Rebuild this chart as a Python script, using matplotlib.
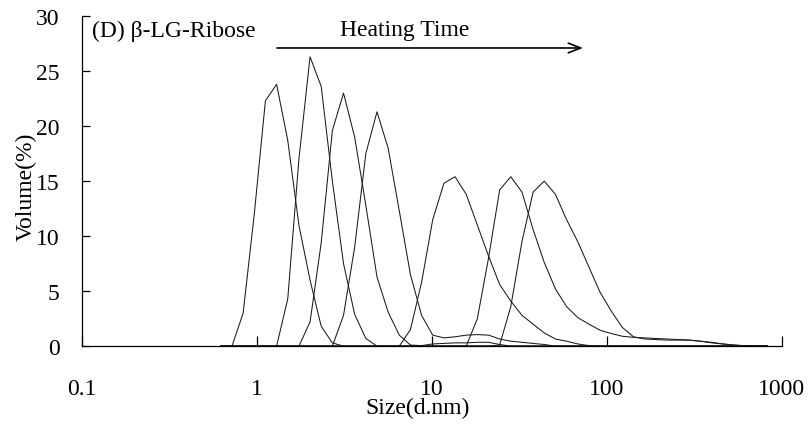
import matplotlib
matplotlib.use("Agg")
import matplotlib.pyplot as plt
import matplotlib.ticker as mticker

plt.rcParams['font.family'] = ['Liberation Serif', 'DejaVu Serif']

# size classes (d.nm) of the DLS volume distribution
size_nm = [0.6213, 0.7195, 0.8332, 0.9649, 1.117, 1.294, 1.499, 1.736, 2.01, 2.328,
           2.696, 3.122, 3.615, 4.187, 4.849, 5.615, 6.503, 7.531, 8.721, 10.1,
           11.7, 13.54, 15.69, 18.17, 21.04, 24.36, 28.21, 32.67, 37.84, 43.82,
           50.75, 58.77, 68.06, 78.82, 91.28, 105.7, 122.4, 141.8, 164.2, 190.1,
           220.2, 255.0, 295.3, 342.0, 396.1, 458.7, 531.2, 615.1, 712.4, 825.0]

# volume (%) per size class, one list per heating time
vol_1 = [0, 0, 3.0, 12.0, 22.3, 23.8, 18.7, 11.0, 6.0, 1.8,
         0.3, 0, 0, 0, 0, 0, 0, 0, 0, 0,
         0, 0, 0, 0, 0, 0, 0, 0, 0, 0,
         0, 0, 0, 0, 0, 0, 0, 0, 0, 0,
         0, 0, 0, 0, 0, 0, 0, 0, 0, 0]
vol_2 = [0, 0, 0, 0, 0, 0, 4.3, 17.0, 26.3, 23.6,
         15.0, 7.5, 2.9, 0.7, 0, 0, 0, 0, 0, 0,
         0, 0, 0, 0, 0, 0, 0, 0, 0, 0,
         0, 0, 0, 0, 0, 0, 0, 0, 0, 0,
         0, 0, 0, 0, 0, 0, 0, 0, 0, 0]
vol_3 = [0, 0, 0, 0, 0, 0, 0, 0, 2.2, 9.4,
         19.6, 23.0, 19.0, 12.8, 6.3, 3.1, 1.0, 0.1, 0.05, 0.2,
         0.25, 0.3, 0.3, 0.35, 0.35, 0.15, 0, 0, 0, 0,
         0, 0, 0, 0, 0, 0, 0, 0, 0, 0,
         0, 0, 0, 0, 0, 0, 0, 0, 0, 0]
vol_4 = [0, 0, 0, 0, 0, 0, 0, 0, 0, 0,
         0, 2.8, 9.0, 17.5, 21.3, 18.0, 12.3, 6.5, 2.8, 1.0,
         0.75, 0.85, 1.0, 1.05, 1.0, 0.65, 0.45, 0.35, 0.25, 0.15,
         0, 0, 0, 0, 0, 0, 0, 0, 0, 0,
         0, 0, 0, 0, 0, 0, 0, 0, 0, 0]
vol_5 = [0, 0, 0, 0, 0, 0, 0, 0, 0, 0,
         0, 0, 0, 0, 0, 0, 0, 1.5, 5.8, 11.5,
         14.8, 15.4, 13.8, 11.0, 8.2, 5.6, 4.1, 2.8, 2.0, 1.2,
         0.65, 0.45, 0.2, 0.05, 0, 0, 0, 0, 0, 0,
         0, 0, 0, 0, 0, 0, 0, 0, 0, 0]
vol_6 = [0, 0, 0, 0, 0, 0, 0, 0, 0, 0,
         0, 0, 0, 0, 0, 0, 0, 0, 0, 0,
         0, 0, 0, 2.5, 8.0, 14.2, 15.4, 14.0, 10.6, 7.6,
         5.2, 3.6, 2.6, 2.0, 1.45, 1.15, 0.9, 0.8, 0.75, 0.7,
         0.65, 0.6, 0.55, 0.45, 0.35, 0.2, 0.1, 0.02, 0, 0]
vol_7 = [0, 0, 0, 0, 0, 0, 0, 0, 0, 0,
         0, 0, 0, 0, 0, 0, 0, 0, 0, 0,
         0, 0, 0, 0, 0, 0.1, 3.6, 9.5, 14.0, 15.0,
         13.8, 11.5, 9.5, 7.2, 4.9, 3.2, 1.7, 0.85, 0.65, 0.6,
         0.55, 0.55, 0.55, 0.45, 0.3, 0.2, 0.1, 0.05, 0.02, 0]

x_ticks = [0.1, 1, 10, 100, 1000]
x_tick_labels = ['0.1', '1', '10', '100', '1000']
y_ticks = [0, 5, 10, 15, 20, 25, 30]


def draw_graph(out_file):
    fig, ax = plt.subplots(figsize=(8.12, 4.27), dpi=100)
    fig.subplots_adjust(left=0.101, right=0.963, bottom=0.187, top=0.960)

    for vals in [vol_1, vol_2, vol_3, vol_4, vol_5, vol_6, vol_7]:
        ax.plot(size_nm, vals, color='#1a1a1a', linewidth=0.75)

    ax.set_xscale('log')
    ax.set_xlim(0.1, 1000)
    ax.set_ylim(0, 30)

    ax.xaxis.set_major_locator(mticker.FixedLocator(x_ticks))
    ax.xaxis.set_minor_locator(mticker.NullLocator())
    ax.set_xticklabels(x_tick_labels)
    ax.set_yticks(y_ticks)

    ax.spines['top'].set_visible(False)
    ax.spines['right'].set_visible(False)
    for side in ['left', 'bottom']:
        ax.spines[side].set_linewidth(0.9)

    ax.tick_params(axis='y', direction='in', length=6, width=0.9, pad=16, labelsize=17)
    ax.tick_params(axis='x', direction='in', length=7, width=0.9, pad=23, labelsize=17)

    ax.set_xlabel('Size(d.nm)', fontsize=17)
    ax.xaxis.set_label_coords(0.48, -0.155)
    ax.set_ylabel('Volume(%)', fontsize=17)
    ax.yaxis.set_label_coords(-0.064, 0.485)

    ax.text(0.114, 28.2, '(D) \u03b2-LG-Ribose', fontsize=17, ha='left', va='baseline')
    ax.text(7.0, 28.3, 'Heating Time', fontsize=17, ha='center', va='baseline')
    ax.annotate('', xy=(73, 27.1), xytext=(1.3, 27.1),
                arrowprops=dict(arrowstyle='->,head_length=0.9,head_width=0.35',
                                color='black', linewidth=1.2, shrinkA=0, shrinkB=0))

    fig.savefig(out_file, dpi=100)
    plt.close(fig)


draw_graph('out.png')
